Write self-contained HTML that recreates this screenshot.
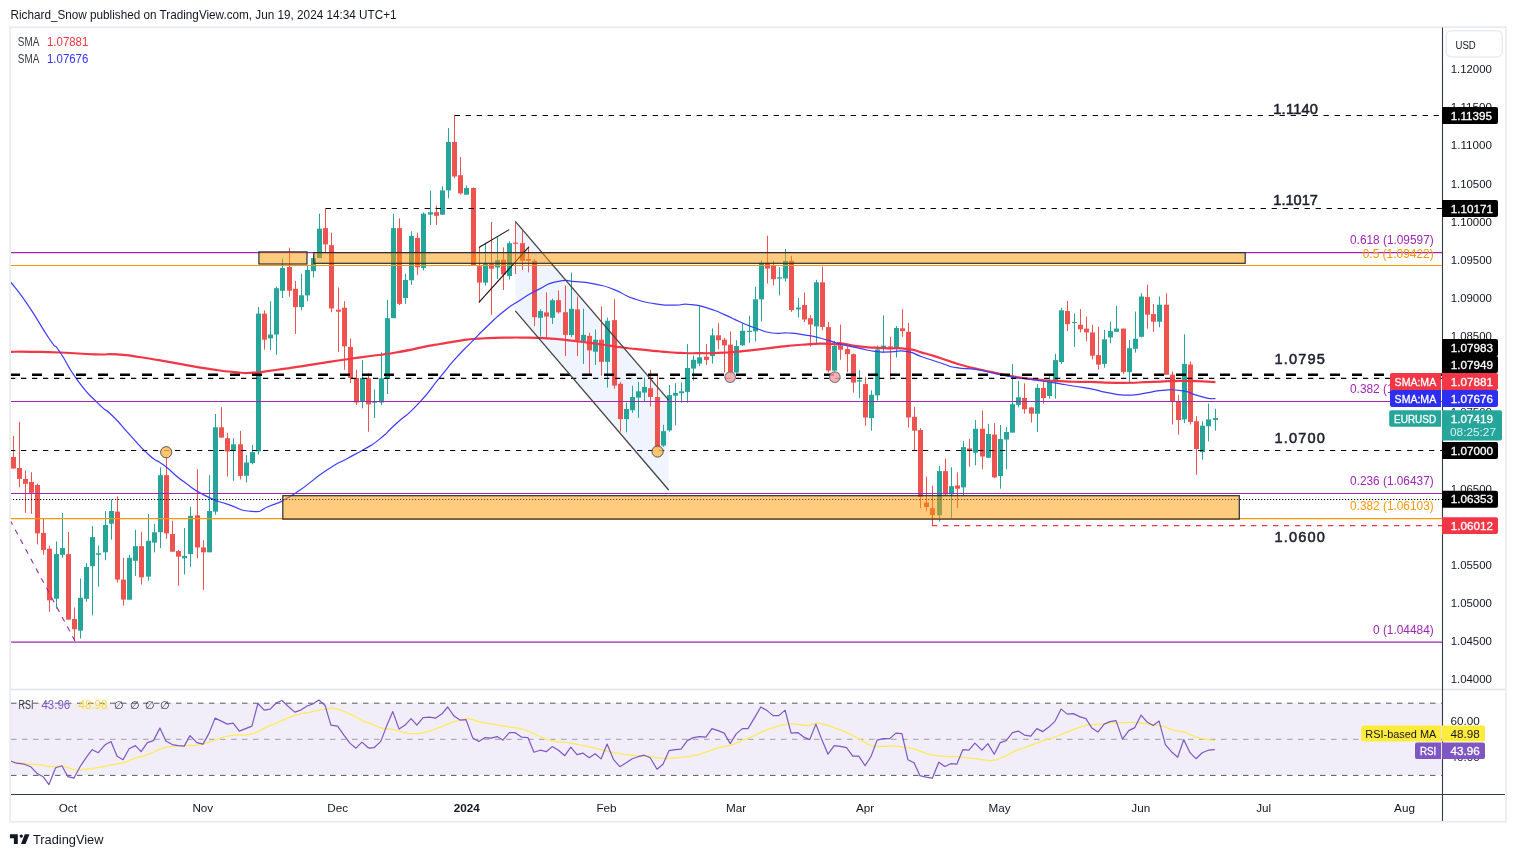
<!DOCTYPE html>
<html><head><meta charset="utf-8"><title>EURUSD chart</title>
<style>
html,body{margin:0;padding:0;background:#fff;}
body{width:1516px;height:857px;overflow:hidden;font-family:"Liberation Sans", Arial, sans-serif;}
svg{display:block}
text{font-family:"Liberation Sans", Arial, sans-serif;}
</style></head><body>
<svg width="1516" height="857" viewBox="0 0 1516 857">
<rect x="0" y="0" width="1516" height="857" fill="#ffffff"/>

<rect x="10.1" y="27.1" width="1495.9" height="794.6" fill="none" stroke="#e9ebf1" stroke-width="1.7"/>
<text x="10.5" y="19" font-size="12.2" fill="#131722" textLength="386" lengthAdjust="spacingAndGlyphs">Richard_Snow published on TradingView.com, Jun 19, 2024 14:34 UTC+1</text>
<defs><clipPath id="cp"><rect x="11" y="28" width="1431" height="661"/></clipPath><clipPath id="cr"><rect x="11" y="690" width="1431" height="104"/></clipPath></defs>
<g clip-path="url(#cp)">
<polygon points="515.3,221.4 668.7,400.2 668.7,490.0 515.3,310.9" fill="#2962ff" fill-opacity="0.07"/>
<line x1="13.5" x2="13.5" y1="435.8" y2="468.6" stroke="#ef5350" stroke-width="1"/>
<rect x="11.0" y="457.0" width="5" height="11.5" fill="#ef5350"/>
<line x1="19.5" x2="19.5" y1="421.8" y2="487.4" stroke="#ef5350" stroke-width="1"/>
<rect x="17.0" y="468.0" width="5" height="10.9" fill="#ef5350"/>
<line x1="25.5" x2="25.5" y1="470.4" y2="512.9" stroke="#ef5350" stroke-width="1"/>
<rect x="23.0" y="478.9" width="5" height="4.9" fill="#ef5350"/>
<line x1="31.5" x2="31.5" y1="472.2" y2="513.8" stroke="#ef5350" stroke-width="1"/>
<rect x="29.0" y="481.9" width="5" height="10.9" fill="#ef5350"/>
<line x1="37.5" x2="37.5" y1="483.7" y2="544.4" stroke="#ef5350" stroke-width="1"/>
<rect x="35.0" y="484.9" width="5" height="48.5" fill="#ef5350"/>
<line x1="43.5" x2="43.5" y1="518.3" y2="554.7" stroke="#ef5350" stroke-width="1"/>
<rect x="41.0" y="532.9" width="5" height="17.0" fill="#ef5350"/>
<line x1="49.5" x2="49.5" y1="545.6" y2="611.8" stroke="#ef5350" stroke-width="1"/>
<rect x="47.0" y="548.7" width="5" height="51.6" fill="#ef5350"/>
<line x1="56.5" x2="56.5" y1="541.4" y2="608.7" stroke="#26a69a" stroke-width="1"/>
<rect x="54.0" y="554.1" width="5" height="44.6" fill="#26a69a"/>
<line x1="62.5" x2="62.5" y1="512.9" y2="557.8" stroke="#26a69a" stroke-width="1"/>
<rect x="60.0" y="548.1" width="5" height="6.7" fill="#26a69a"/>
<line x1="68.5" x2="68.5" y1="532.0" y2="619.6" stroke="#ef5350" stroke-width="1"/>
<rect x="66.0" y="554.1" width="5" height="65.5" fill="#ef5350"/>
<line x1="74.5" x2="74.5" y1="607.5" y2="641.2" stroke="#ef5350" stroke-width="1"/>
<rect x="72.0" y="619.0" width="5" height="10.3" fill="#ef5350"/>
<line x1="80.5" x2="80.5" y1="578.4" y2="638.5" stroke="#26a69a" stroke-width="1"/>
<rect x="78.0" y="597.8" width="5" height="32.8" fill="#26a69a"/>
<line x1="86.5" x2="86.5" y1="563.2" y2="601.8" stroke="#26a69a" stroke-width="1"/>
<rect x="84.0" y="566.9" width="5" height="31.9" fill="#26a69a"/>
<line x1="92.5" x2="92.5" y1="526.2" y2="615.4" stroke="#26a69a" stroke-width="1"/>
<rect x="90.0" y="537.1" width="5" height="29.1" fill="#26a69a"/>
<line x1="98.5" x2="98.5" y1="545.6" y2="586.6" stroke="#26a69a" stroke-width="1"/>
<rect x="96.0" y="553.2" width="5" height="1.5" fill="#26a69a"/>
<line x1="105.5" x2="105.5" y1="511.0" y2="560.2" stroke="#26a69a" stroke-width="1"/>
<rect x="103.0" y="525.0" width="5" height="27.3" fill="#26a69a"/>
<line x1="111.5" x2="111.5" y1="499.5" y2="539.6" stroke="#26a69a" stroke-width="1"/>
<rect x="109.0" y="511.0" width="5" height="12.7" fill="#26a69a"/>
<line x1="117.5" x2="117.5" y1="496.5" y2="582.6" stroke="#ef5350" stroke-width="1"/>
<rect x="115.0" y="511.6" width="5" height="68.0" fill="#ef5350"/>
<line x1="123.5" x2="123.5" y1="557.8" y2="605.7" stroke="#ef5350" stroke-width="1"/>
<rect x="121.0" y="579.6" width="5" height="20.0" fill="#ef5350"/>
<line x1="129.5" x2="129.5" y1="554.7" y2="599.6" stroke="#26a69a" stroke-width="1"/>
<rect x="127.0" y="557.8" width="5" height="41.9" fill="#26a69a"/>
<line x1="135.5" x2="135.5" y1="529.8" y2="576.0" stroke="#26a69a" stroke-width="1"/>
<rect x="133.0" y="546.2" width="5" height="14.6" fill="#26a69a"/>
<line x1="141.5" x2="141.5" y1="531.7" y2="584.5" stroke="#ef5350" stroke-width="1"/>
<rect x="139.0" y="546.2" width="5" height="31.2" fill="#ef5350"/>
<line x1="148.5" x2="148.5" y1="514.1" y2="580.8" stroke="#26a69a" stroke-width="1"/>
<rect x="146.0" y="540.8" width="5" height="35.8" fill="#26a69a"/>
<line x1="154.5" x2="154.5" y1="523.8" y2="552.3" stroke="#26a69a" stroke-width="1"/>
<rect x="152.0" y="532.3" width="5" height="10.3" fill="#26a69a"/>
<line x1="160.5" x2="160.5" y1="467.4" y2="548.1" stroke="#26a69a" stroke-width="1"/>
<rect x="158.0" y="475.2" width="5" height="57.0" fill="#26a69a"/>
<line x1="166.5" x2="166.5" y1="457.6" y2="538.9" stroke="#ef5350" stroke-width="1"/>
<rect x="164.0" y="475.2" width="5" height="58.2" fill="#ef5350"/>
<line x1="172.5" x2="172.5" y1="520.7" y2="551.7" stroke="#ef5350" stroke-width="1"/>
<rect x="170.0" y="534.1" width="5" height="17.6" fill="#ef5350"/>
<line x1="178.5" x2="178.5" y1="549.9" y2="585.7" stroke="#ef5350" stroke-width="1"/>
<rect x="176.0" y="551.1" width="5" height="5.5" fill="#ef5350"/>
<line x1="184.5" x2="184.5" y1="528.0" y2="574.4" stroke="#26a69a" stroke-width="1"/>
<rect x="182.0" y="555.9" width="5" height="2.4" fill="#26a69a"/>
<line x1="190.5" x2="190.5" y1="506.8" y2="566.9" stroke="#26a69a" stroke-width="1"/>
<rect x="188.0" y="515.9" width="5" height="38.2" fill="#26a69a"/>
<line x1="197.5" x2="197.5" y1="469.2" y2="558.4" stroke="#ef5350" stroke-width="1"/>
<rect x="195.0" y="515.3" width="5" height="32.2" fill="#ef5350"/>
<line x1="203.5" x2="203.5" y1="540.2" y2="589.9" stroke="#ef5350" stroke-width="1"/>
<rect x="201.0" y="547.4" width="5" height="4.9" fill="#ef5350"/>
<line x1="209.5" x2="209.5" y1="475.2" y2="552.3" stroke="#26a69a" stroke-width="1"/>
<rect x="207.0" y="511.0" width="5" height="41.3" fill="#26a69a"/>
<line x1="215.5" x2="215.5" y1="414.0" y2="514.7" stroke="#26a69a" stroke-width="1"/>
<rect x="213.0" y="427.3" width="5" height="84.3" fill="#26a69a"/>
<line x1="221.5" x2="221.5" y1="407.3" y2="437.6" stroke="#ef5350" stroke-width="1"/>
<rect x="219.0" y="427.3" width="5" height="10.3" fill="#ef5350"/>
<line x1="227.5" x2="227.5" y1="432.8" y2="476.5" stroke="#ef5350" stroke-width="1"/>
<rect x="225.0" y="438.2" width="5" height="13.3" fill="#ef5350"/>
<line x1="233.5" x2="233.5" y1="438.2" y2="480.7" stroke="#26a69a" stroke-width="1"/>
<rect x="231.0" y="444.3" width="5" height="6.7" fill="#26a69a"/>
<line x1="240.5" x2="240.5" y1="430.9" y2="479.5" stroke="#ef5350" stroke-width="1"/>
<rect x="238.0" y="444.3" width="5" height="31.6" fill="#ef5350"/>
<line x1="246.5" x2="246.5" y1="455.2" y2="482.5" stroke="#26a69a" stroke-width="1"/>
<rect x="244.0" y="462.5" width="5" height="13.3" fill="#26a69a"/>
<line x1="252.5" x2="252.5" y1="444.9" y2="464.3" stroke="#26a69a" stroke-width="1"/>
<rect x="250.0" y="452.2" width="5" height="10.9" fill="#26a69a"/>
<line x1="258.5" x2="258.5" y1="307.1" y2="454.7" stroke="#26a69a" stroke-width="1"/>
<rect x="256.0" y="313.6" width="5" height="137.8" fill="#26a69a"/>
<line x1="264.5" x2="264.5" y1="310.4" y2="349.6" stroke="#ef5350" stroke-width="1"/>
<rect x="262.0" y="313.6" width="5" height="26.1" fill="#ef5350"/>
<line x1="270.5" x2="270.5" y1="301.2" y2="350.2" stroke="#26a69a" stroke-width="1"/>
<rect x="268.0" y="334.5" width="5" height="3.9" fill="#26a69a"/>
<line x1="276.5" x2="276.5" y1="286.5" y2="354.8" stroke="#26a69a" stroke-width="1"/>
<rect x="274.0" y="288.2" width="5" height="46.4" fill="#26a69a"/>
<line x1="282.5" x2="282.5" y1="258.8" y2="298.0" stroke="#26a69a" stroke-width="1"/>
<rect x="280.0" y="267.9" width="5" height="22.9" fill="#26a69a"/>
<line x1="289.5" x2="289.5" y1="247.7" y2="296.7" stroke="#ef5350" stroke-width="1"/>
<rect x="287.0" y="266.9" width="5" height="23.8" fill="#ef5350"/>
<line x1="295.5" x2="295.5" y1="281.0" y2="333.9" stroke="#ef5350" stroke-width="1"/>
<rect x="293.0" y="288.8" width="5" height="18.3" fill="#ef5350"/>
<line x1="301.5" x2="301.5" y1="273.8" y2="310.4" stroke="#26a69a" stroke-width="1"/>
<rect x="299.0" y="295.3" width="5" height="11.8" fill="#26a69a"/>
<line x1="307.5" x2="307.5" y1="265.3" y2="301.2" stroke="#26a69a" stroke-width="1"/>
<rect x="305.0" y="269.9" width="5" height="25.5" fill="#26a69a"/>
<line x1="313.5" x2="313.5" y1="254.9" y2="277.7" stroke="#26a69a" stroke-width="1"/>
<rect x="311.0" y="258.1" width="5" height="13.1" fill="#26a69a"/>
<line x1="319.5" x2="319.5" y1="213.7" y2="258.1" stroke="#26a69a" stroke-width="1"/>
<rect x="317.0" y="228.7" width="5" height="29.4" fill="#26a69a"/>
<line x1="325.5" x2="325.5" y1="208.5" y2="252.2" stroke="#ef5350" stroke-width="1"/>
<rect x="323.0" y="228.1" width="5" height="16.3" fill="#ef5350"/>
<line x1="331.5" x2="331.5" y1="232.7" y2="312.3" stroke="#ef5350" stroke-width="1"/>
<rect x="329.0" y="245.1" width="5" height="63.3" fill="#ef5350"/>
<line x1="338.5" x2="338.5" y1="287.5" y2="352.2" stroke="#ef5350" stroke-width="1"/>
<rect x="336.0" y="309.7" width="5" height="2.0" fill="#ef5350"/>
<line x1="344.5" x2="344.5" y1="301.2" y2="369.8" stroke="#ef5350" stroke-width="1"/>
<rect x="342.0" y="307.8" width="5" height="38.5" fill="#ef5350"/>
<line x1="350.5" x2="350.5" y1="338.4" y2="382.9" stroke="#ef5350" stroke-width="1"/>
<rect x="348.0" y="346.9" width="5" height="31.0" fill="#ef5350"/>
<line x1="356.5" x2="356.5" y1="369.8" y2="405.1" stroke="#ef5350" stroke-width="1"/>
<rect x="354.0" y="378.0" width="5" height="24.5" fill="#ef5350"/>
<line x1="362.5" x2="362.5" y1="360.0" y2="408.3" stroke="#26a69a" stroke-width="1"/>
<rect x="360.0" y="378.0" width="5" height="23.8" fill="#26a69a"/>
<line x1="368.5" x2="368.5" y1="373.1" y2="431.8" stroke="#ef5350" stroke-width="1"/>
<rect x="366.0" y="378.3" width="5" height="26.1" fill="#ef5350"/>
<line x1="374.5" x2="374.5" y1="389.4" y2="418.1" stroke="#26a69a" stroke-width="1"/>
<rect x="372.0" y="401.5" width="5" height="1.3" fill="#26a69a"/>
<line x1="381.5" x2="381.5" y1="352.2" y2="405.1" stroke="#26a69a" stroke-width="1"/>
<rect x="379.0" y="378.3" width="5" height="24.2" fill="#26a69a"/>
<line x1="387.5" x2="387.5" y1="299.9" y2="394.0" stroke="#26a69a" stroke-width="1"/>
<rect x="385.0" y="318.2" width="5" height="60.7" fill="#26a69a"/>
<line x1="393.5" x2="393.5" y1="213.7" y2="318.2" stroke="#26a69a" stroke-width="1"/>
<rect x="391.0" y="228.1" width="5" height="90.1" fill="#26a69a"/>
<line x1="399.5" x2="399.5" y1="218.3" y2="305.1" stroke="#ef5350" stroke-width="1"/>
<rect x="397.0" y="228.1" width="5" height="75.8" fill="#ef5350"/>
<line x1="405.5" x2="405.5" y1="273.8" y2="303.8" stroke="#26a69a" stroke-width="1"/>
<rect x="403.0" y="280.0" width="5" height="18.0" fill="#26a69a"/>
<line x1="411.5" x2="411.5" y1="231.3" y2="284.9" stroke="#26a69a" stroke-width="1"/>
<rect x="409.0" y="235.9" width="5" height="44.4" fill="#26a69a"/>
<line x1="417.5" x2="417.5" y1="232.7" y2="275.1" stroke="#ef5350" stroke-width="1"/>
<rect x="415.0" y="237.9" width="5" height="29.4" fill="#ef5350"/>
<line x1="423.5" x2="423.5" y1="212.4" y2="270.5" stroke="#26a69a" stroke-width="1"/>
<rect x="421.0" y="213.7" width="5" height="54.2" fill="#26a69a"/>
<line x1="430.5" x2="430.5" y1="190.4" y2="225.0" stroke="#26a69a" stroke-width="1"/>
<rect x="428.0" y="212.2" width="5" height="2.4" fill="#26a69a"/>
<line x1="436.5" x2="436.5" y1="205.6" y2="225.0" stroke="#ef5350" stroke-width="1"/>
<rect x="434.0" y="212.2" width="5" height="3.6" fill="#ef5350"/>
<line x1="442.5" x2="442.5" y1="186.2" y2="214.7" stroke="#26a69a" stroke-width="1"/>
<rect x="440.0" y="190.4" width="5" height="24.3" fill="#26a69a"/>
<line x1="448.5" x2="448.5" y1="127.9" y2="198.3" stroke="#26a69a" stroke-width="1"/>
<rect x="446.0" y="141.9" width="5" height="48.5" fill="#26a69a"/>
<line x1="454.5" x2="454.5" y1="115.2" y2="178.3" stroke="#ef5350" stroke-width="1"/>
<rect x="452.0" y="141.9" width="5" height="34.6" fill="#ef5350"/>
<line x1="460.5" x2="460.5" y1="157.0" y2="194.6" stroke="#ef5350" stroke-width="1"/>
<rect x="458.0" y="175.2" width="5" height="18.2" fill="#ef5350"/>
<line x1="466.5" x2="466.5" y1="185.5" y2="194.6" stroke="#26a69a" stroke-width="1"/>
<rect x="464.0" y="188.0" width="5" height="6.7" fill="#26a69a"/>
<line x1="473.5" x2="473.5" y1="187.4" y2="265.3" stroke="#ef5350" stroke-width="1"/>
<rect x="471.0" y="188.0" width="5" height="77.4" fill="#ef5350"/>
<line x1="479.5" x2="479.5" y1="247.4" y2="302.6" stroke="#ef5350" stroke-width="1"/>
<rect x="477.0" y="266.2" width="5" height="16.4" fill="#ef5350"/>
<line x1="485.5" x2="485.5" y1="242.6" y2="285.7" stroke="#26a69a" stroke-width="1"/>
<rect x="483.0" y="263.8" width="5" height="18.8" fill="#26a69a"/>
<line x1="491.5" x2="491.5" y1="222.0" y2="314.8" stroke="#ef5350" stroke-width="1"/>
<rect x="489.0" y="263.8" width="5" height="4.9" fill="#ef5350"/>
<line x1="497.5" x2="497.5" y1="237.1" y2="279.0" stroke="#26a69a" stroke-width="1"/>
<rect x="495.0" y="260.2" width="5" height="7.3" fill="#26a69a"/>
<line x1="503.5" x2="503.5" y1="247.4" y2="289.9" stroke="#ef5350" stroke-width="1"/>
<rect x="501.0" y="259.6" width="5" height="14.9" fill="#ef5350"/>
<line x1="509.5" x2="509.5" y1="241.4" y2="279.6" stroke="#26a69a" stroke-width="1"/>
<rect x="507.0" y="243.2" width="5" height="32.8" fill="#26a69a"/>
<line x1="515.5" x2="515.5" y1="222.0" y2="274.1" stroke="#ef5350" stroke-width="1"/>
<rect x="513.0" y="242.6" width="5" height="1.2" fill="#ef5350"/>
<line x1="522.5" x2="522.5" y1="231.1" y2="269.9" stroke="#ef5350" stroke-width="1"/>
<rect x="520.0" y="243.2" width="5" height="17.6" fill="#ef5350"/>
<line x1="528.5" x2="528.5" y1="246.8" y2="272.3" stroke="#ef5350" stroke-width="1"/>
<rect x="526.0" y="259.0" width="5" height="1.8" fill="#ef5350"/>
<line x1="534.5" x2="534.5" y1="259.0" y2="326.0" stroke="#ef5350" stroke-width="1"/>
<rect x="532.0" y="260.8" width="5" height="56.4" fill="#ef5350"/>
<line x1="540.5" x2="540.5" y1="309.3" y2="336.6" stroke="#26a69a" stroke-width="1"/>
<rect x="538.0" y="311.1" width="5" height="6.7" fill="#26a69a"/>
<line x1="546.5" x2="546.5" y1="292.3" y2="337.8" stroke="#ef5350" stroke-width="1"/>
<rect x="544.0" y="312.4" width="5" height="4.2" fill="#ef5350"/>
<line x1="552.5" x2="552.5" y1="298.7" y2="323.9" stroke="#26a69a" stroke-width="1"/>
<rect x="550.0" y="300.2" width="5" height="17.6" fill="#26a69a"/>
<line x1="558.5" x2="558.5" y1="290.5" y2="313.6" stroke="#ef5350" stroke-width="1"/>
<rect x="556.0" y="300.2" width="5" height="12.1" fill="#ef5350"/>
<line x1="565.5" x2="565.5" y1="285.5" y2="356.1" stroke="#ef5350" stroke-width="1"/>
<rect x="563.0" y="312.2" width="5" height="22.7" fill="#ef5350"/>
<line x1="571.5" x2="571.5" y1="272.5" y2="337.1" stroke="#26a69a" stroke-width="1"/>
<rect x="569.0" y="308.8" width="5" height="26.2" fill="#26a69a"/>
<line x1="577.5" x2="577.5" y1="296.8" y2="356.1" stroke="#ef5350" stroke-width="1"/>
<rect x="575.0" y="309.4" width="5" height="30.9" fill="#ef5350"/>
<line x1="583.5" x2="583.5" y1="308.8" y2="363.9" stroke="#26a69a" stroke-width="1"/>
<rect x="581.0" y="334.9" width="5" height="6.0" fill="#26a69a"/>
<line x1="589.5" x2="589.5" y1="332.7" y2="375.0" stroke="#ef5350" stroke-width="1"/>
<rect x="587.0" y="335.9" width="5" height="14.5" fill="#ef5350"/>
<line x1="595.5" x2="595.5" y1="329.6" y2="364.9" stroke="#26a69a" stroke-width="1"/>
<rect x="593.0" y="339.7" width="5" height="12.0" fill="#26a69a"/>
<line x1="601.5" x2="601.5" y1="306.3" y2="375.6" stroke="#ef5350" stroke-width="1"/>
<rect x="599.0" y="339.7" width="5" height="22.1" fill="#ef5350"/>
<line x1="607.5" x2="607.5" y1="317.6" y2="387.6" stroke="#26a69a" stroke-width="1"/>
<rect x="605.0" y="320.8" width="5" height="41.0" fill="#26a69a"/>
<line x1="614.5" x2="614.5" y1="299.3" y2="388.8" stroke="#ef5350" stroke-width="1"/>
<rect x="612.0" y="320.1" width="5" height="65.5" fill="#ef5350"/>
<line x1="620.5" x2="620.5" y1="381.9" y2="431.7" stroke="#ef5350" stroke-width="1"/>
<rect x="618.0" y="383.8" width="5" height="35.3" fill="#ef5350"/>
<line x1="626.5" x2="626.5" y1="402.7" y2="432.3" stroke="#26a69a" stroke-width="1"/>
<rect x="624.0" y="409.0" width="5" height="10.1" fill="#26a69a"/>
<line x1="632.5" x2="632.5" y1="385.7" y2="412.8" stroke="#26a69a" stroke-width="1"/>
<rect x="630.0" y="397.0" width="5" height="13.2" fill="#26a69a"/>
<line x1="638.5" x2="638.5" y1="381.9" y2="417.8" stroke="#26a69a" stroke-width="1"/>
<rect x="636.0" y="391.3" width="5" height="6.3" fill="#26a69a"/>
<line x1="644.5" x2="644.5" y1="377.5" y2="402.1" stroke="#26a69a" stroke-width="1"/>
<rect x="642.0" y="386.9" width="5" height="5.7" fill="#26a69a"/>
<line x1="650.5" x2="650.5" y1="369.9" y2="406.5" stroke="#ef5350" stroke-width="1"/>
<rect x="648.0" y="388.2" width="5" height="8.8" fill="#ef5350"/>
<line x1="657.5" x2="657.5" y1="375.0" y2="447.4" stroke="#ef5350" stroke-width="1"/>
<rect x="655.0" y="397.0" width="5" height="50.4" fill="#ef5350"/>
<line x1="663.5" x2="663.5" y1="424.7" y2="446.8" stroke="#26a69a" stroke-width="1"/>
<rect x="661.0" y="431.1" width="5" height="14.5" fill="#26a69a"/>
<line x1="669.5" x2="669.5" y1="385.0" y2="431.7" stroke="#26a69a" stroke-width="1"/>
<rect x="667.0" y="395.1" width="5" height="35.3" fill="#26a69a"/>
<line x1="675.5" x2="675.5" y1="383.2" y2="425.4" stroke="#26a69a" stroke-width="1"/>
<rect x="673.0" y="392.9" width="5" height="2.8" fill="#26a69a"/>
<line x1="681.5" x2="681.5" y1="382.5" y2="402.7" stroke="#26a69a" stroke-width="1"/>
<rect x="679.0" y="391.3" width="5" height="1.9" fill="#26a69a"/>
<line x1="687.5" x2="687.5" y1="344.1" y2="402.7" stroke="#26a69a" stroke-width="1"/>
<rect x="685.0" y="368.0" width="5" height="23.9" fill="#26a69a"/>
<line x1="693.5" x2="693.5" y1="355.4" y2="380.6" stroke="#26a69a" stroke-width="1"/>
<rect x="691.0" y="359.8" width="5" height="8.8" fill="#26a69a"/>
<line x1="699.5" x2="699.5" y1="305.6" y2="366.1" stroke="#26a69a" stroke-width="1"/>
<rect x="697.0" y="357.3" width="5" height="6.3" fill="#26a69a"/>
<line x1="706.5" x2="706.5" y1="344.1" y2="364.9" stroke="#ef5350" stroke-width="1"/>
<rect x="704.0" y="356.7" width="5" height="3.2" fill="#ef5350"/>
<line x1="712.5" x2="712.5" y1="328.3" y2="363.6" stroke="#26a69a" stroke-width="1"/>
<rect x="710.0" y="335.3" width="5" height="20.8" fill="#26a69a"/>
<line x1="718.5" x2="718.5" y1="323.3" y2="349.1" stroke="#ef5350" stroke-width="1"/>
<rect x="716.0" y="335.3" width="5" height="5.0" fill="#ef5350"/>
<line x1="724.5" x2="724.5" y1="337.8" y2="372.4" stroke="#ef5350" stroke-width="1"/>
<rect x="722.0" y="339.7" width="5" height="5.7" fill="#ef5350"/>
<line x1="730.5" x2="730.5" y1="331.5" y2="374.3" stroke="#ef5350" stroke-width="1"/>
<rect x="728.0" y="344.7" width="5" height="27.7" fill="#ef5350"/>
<line x1="736.5" x2="736.5" y1="340.3" y2="373.1" stroke="#26a69a" stroke-width="1"/>
<rect x="734.0" y="346.0" width="5" height="26.5" fill="#26a69a"/>
<line x1="742.5" x2="742.5" y1="323.3" y2="346.0" stroke="#26a69a" stroke-width="1"/>
<rect x="740.0" y="330.8" width="5" height="14.5" fill="#26a69a"/>
<line x1="749.5" x2="749.5" y1="315.7" y2="342.8" stroke="#26a69a" stroke-width="1"/>
<rect x="747.0" y="330.8" width="5" height="1.3" fill="#26a69a"/>
<line x1="755.5" x2="755.5" y1="286.7" y2="341.6" stroke="#26a69a" stroke-width="1"/>
<rect x="753.0" y="299.3" width="5" height="32.1" fill="#26a69a"/>
<line x1="761.5" x2="761.5" y1="260.3" y2="321.4" stroke="#26a69a" stroke-width="1"/>
<rect x="759.0" y="262.8" width="5" height="36.6" fill="#26a69a"/>
<line x1="767.5" x2="767.5" y1="235.7" y2="283.6" stroke="#ef5350" stroke-width="1"/>
<rect x="765.0" y="262.8" width="5" height="5.7" fill="#ef5350"/>
<line x1="773.5" x2="773.5" y1="260.9" y2="285.5" stroke="#ef5350" stroke-width="1"/>
<rect x="771.0" y="265.3" width="5" height="13.9" fill="#ef5350"/>
<line x1="779.5" x2="779.5" y1="267.2" y2="295.5" stroke="#26a69a" stroke-width="1"/>
<rect x="777.0" y="277.3" width="5" height="1.3" fill="#26a69a"/>
<line x1="785.5" x2="785.5" y1="248.9" y2="281.7" stroke="#26a69a" stroke-width="1"/>
<rect x="783.0" y="260.9" width="5" height="17.6" fill="#26a69a"/>
<line x1="791.5" x2="791.5" y1="255.8" y2="311.9" stroke="#ef5350" stroke-width="1"/>
<rect x="789.0" y="260.9" width="5" height="49.2" fill="#ef5350"/>
<line x1="798.5" x2="798.5" y1="298.1" y2="317.6" stroke="#26a69a" stroke-width="1"/>
<rect x="796.0" y="307.5" width="5" height="1.9" fill="#26a69a"/>
<line x1="804.5" x2="804.5" y1="292.4" y2="322.0" stroke="#ef5350" stroke-width="1"/>
<rect x="802.0" y="305.0" width="5" height="14.5" fill="#ef5350"/>
<line x1="810.5" x2="810.5" y1="315.1" y2="346.6" stroke="#ef5350" stroke-width="1"/>
<rect x="808.0" y="318.2" width="5" height="6.3" fill="#ef5350"/>
<line x1="816.5" x2="816.5" y1="279.8" y2="344.1" stroke="#26a69a" stroke-width="1"/>
<rect x="814.0" y="282.3" width="5" height="44.1" fill="#26a69a"/>
<line x1="822.5" x2="822.5" y1="266.6" y2="330.2" stroke="#ef5350" stroke-width="1"/>
<rect x="820.0" y="282.3" width="5" height="44.7" fill="#ef5350"/>
<line x1="828.5" x2="828.5" y1="322.0" y2="372.4" stroke="#ef5350" stroke-width="1"/>
<rect x="826.0" y="327.1" width="5" height="43.5" fill="#ef5350"/>
<line x1="834.5" x2="834.5" y1="340.9" y2="371.8" stroke="#26a69a" stroke-width="1"/>
<rect x="832.0" y="346.0" width="5" height="24.6" fill="#26a69a"/>
<line x1="840.5" x2="840.5" y1="324.5" y2="359.8" stroke="#ef5350" stroke-width="1"/>
<rect x="838.0" y="345.3" width="5" height="4.4" fill="#ef5350"/>
<line x1="847.5" x2="847.5" y1="346.6" y2="372.4" stroke="#ef5350" stroke-width="1"/>
<rect x="845.0" y="349.1" width="5" height="5.0" fill="#ef5350"/>
<line x1="853.5" x2="853.5" y1="353.5" y2="392.6" stroke="#ef5350" stroke-width="1"/>
<rect x="851.0" y="354.2" width="5" height="28.4" fill="#ef5350"/>
<line x1="859.5" x2="859.5" y1="370.2" y2="397.9" stroke="#26a69a" stroke-width="1"/>
<rect x="857.0" y="380.3" width="5" height="1.3" fill="#26a69a"/>
<line x1="865.5" x2="865.5" y1="377.1" y2="425.7" stroke="#ef5350" stroke-width="1"/>
<rect x="863.0" y="384.1" width="5" height="33.4" fill="#ef5350"/>
<line x1="871.5" x2="871.5" y1="390.4" y2="430.7" stroke="#26a69a" stroke-width="1"/>
<rect x="869.0" y="394.8" width="5" height="23.3" fill="#26a69a"/>
<line x1="877.5" x2="877.5" y1="345.6" y2="400.5" stroke="#26a69a" stroke-width="1"/>
<rect x="875.0" y="349.4" width="5" height="46.0" fill="#26a69a"/>
<line x1="883.5" x2="883.5" y1="315.4" y2="352.6" stroke="#26a69a" stroke-width="1"/>
<rect x="881.0" y="345.6" width="5" height="3.2" fill="#26a69a"/>
<line x1="890.5" x2="890.5" y1="336.8" y2="379.7" stroke="#ef5350" stroke-width="1"/>
<rect x="888.0" y="346.3" width="5" height="1.3" fill="#ef5350"/>
<line x1="896.5" x2="896.5" y1="326.1" y2="357.6" stroke="#26a69a" stroke-width="1"/>
<rect x="894.0" y="328.0" width="5" height="20.8" fill="#26a69a"/>
<line x1="902.5" x2="902.5" y1="309.1" y2="336.8" stroke="#ef5350" stroke-width="1"/>
<rect x="900.0" y="328.3" width="5" height="2.8" fill="#ef5350"/>
<line x1="908.5" x2="908.5" y1="322.9" y2="427.6" stroke="#ef5350" stroke-width="1"/>
<rect x="906.0" y="331.8" width="5" height="85.7" fill="#ef5350"/>
<line x1="914.5" x2="914.5" y1="406.8" y2="450.3" stroke="#ef5350" stroke-width="1"/>
<rect x="912.0" y="416.8" width="5" height="13.9" fill="#ef5350"/>
<line x1="920.5" x2="920.5" y1="428.2" y2="508.2" stroke="#ef5350" stroke-width="1"/>
<rect x="918.0" y="430.1" width="5" height="66.8" fill="#ef5350"/>
<line x1="926.5" x2="926.5" y1="476.7" y2="510.8" stroke="#ef5350" stroke-width="1"/>
<rect x="924.0" y="502.6" width="5" height="4.4" fill="#ef5350"/>
<line x1="932.5" x2="932.5" y1="485.5" y2="525.3" stroke="#ef5350" stroke-width="1"/>
<rect x="930.0" y="508.2" width="5" height="6.9" fill="#ef5350"/>
<line x1="939.5" x2="939.5" y1="466.0" y2="521.5" stroke="#26a69a" stroke-width="1"/>
<rect x="937.0" y="471.1" width="5" height="44.1" fill="#26a69a"/>
<line x1="945.5" x2="945.5" y1="458.4" y2="495.6" stroke="#ef5350" stroke-width="1"/>
<rect x="943.0" y="471.1" width="5" height="23.3" fill="#ef5350"/>
<line x1="951.5" x2="951.5" y1="467.3" y2="517.7" stroke="#26a69a" stroke-width="1"/>
<rect x="949.0" y="486.2" width="5" height="8.2" fill="#26a69a"/>
<line x1="957.5" x2="957.5" y1="472.3" y2="508.2" stroke="#ef5350" stroke-width="1"/>
<rect x="955.0" y="485.5" width="5" height="3.2" fill="#ef5350"/>
<line x1="963.5" x2="963.5" y1="440.8" y2="496.3" stroke="#26a69a" stroke-width="1"/>
<rect x="961.0" y="447.1" width="5" height="40.3" fill="#26a69a"/>
<line x1="969.5" x2="969.5" y1="438.9" y2="466.6" stroke="#ef5350" stroke-width="1"/>
<rect x="967.0" y="448.4" width="5" height="2.5" fill="#ef5350"/>
<line x1="975.5" x2="975.5" y1="420.0" y2="465.4" stroke="#26a69a" stroke-width="1"/>
<rect x="973.0" y="428.8" width="5" height="23.9" fill="#26a69a"/>
<line x1="982.5" x2="982.5" y1="410.5" y2="469.2" stroke="#ef5350" stroke-width="1"/>
<rect x="980.0" y="428.8" width="5" height="27.7" fill="#ef5350"/>
<line x1="988.5" x2="988.5" y1="423.8" y2="457.8" stroke="#26a69a" stroke-width="1"/>
<rect x="986.0" y="433.9" width="5" height="23.9" fill="#26a69a"/>
<line x1="994.5" x2="994.5" y1="423.2" y2="478.0" stroke="#ef5350" stroke-width="1"/>
<rect x="992.0" y="434.5" width="5" height="42.9" fill="#ef5350"/>
<line x1="1000.5" x2="1000.5" y1="425.0" y2="488.7" stroke="#26a69a" stroke-width="1"/>
<rect x="998.0" y="438.9" width="5" height="37.2" fill="#26a69a"/>
<line x1="1006.5" x2="1006.5" y1="426.9" y2="469.2" stroke="#26a69a" stroke-width="1"/>
<rect x="1004.0" y="432.0" width="5" height="7.6" fill="#26a69a"/>
<line x1="1012.5" x2="1012.5" y1="363.9" y2="432.6" stroke="#26a69a" stroke-width="1"/>
<rect x="1010.0" y="404.2" width="5" height="28.4" fill="#26a69a"/>
<line x1="1018.5" x2="1018.5" y1="380.9" y2="407.4" stroke="#26a69a" stroke-width="1"/>
<rect x="1016.0" y="397.3" width="5" height="7.6" fill="#26a69a"/>
<line x1="1024.5" x2="1024.5" y1="383.4" y2="413.7" stroke="#ef5350" stroke-width="1"/>
<rect x="1022.0" y="397.9" width="5" height="11.3" fill="#ef5350"/>
<line x1="1031.5" x2="1031.5" y1="407.4" y2="422.5" stroke="#ef5350" stroke-width="1"/>
<rect x="1029.0" y="407.4" width="5" height="6.3" fill="#ef5350"/>
<line x1="1037.5" x2="1037.5" y1="384.1" y2="432.0" stroke="#26a69a" stroke-width="1"/>
<rect x="1035.0" y="387.9" width="5" height="25.8" fill="#26a69a"/>
<line x1="1043.5" x2="1043.5" y1="380.3" y2="403.6" stroke="#ef5350" stroke-width="1"/>
<rect x="1041.0" y="387.9" width="5" height="10.1" fill="#ef5350"/>
<line x1="1049.5" x2="1049.5" y1="375.9" y2="398.6" stroke="#26a69a" stroke-width="1"/>
<rect x="1047.0" y="380.9" width="5" height="15.1" fill="#26a69a"/>
<line x1="1055.5" x2="1055.5" y1="353.8" y2="398.6" stroke="#26a69a" stroke-width="1"/>
<rect x="1053.0" y="360.1" width="5" height="22.1" fill="#26a69a"/>
<line x1="1061.5" x2="1061.5" y1="307.8" y2="363.9" stroke="#26a69a" stroke-width="1"/>
<rect x="1059.0" y="310.3" width="5" height="51.7" fill="#26a69a"/>
<line x1="1067.5" x2="1067.5" y1="300.9" y2="331.1" stroke="#ef5350" stroke-width="1"/>
<rect x="1065.0" y="311.0" width="5" height="13.2" fill="#ef5350"/>
<line x1="1074.5" x2="1074.5" y1="313.5" y2="346.9" stroke="#26a69a" stroke-width="1"/>
<rect x="1072.0" y="322.0" width="5" height="1.0" fill="#26a69a"/>
<line x1="1080.5" x2="1080.5" y1="309.1" y2="332.4" stroke="#ef5350" stroke-width="1"/>
<rect x="1078.0" y="324.8" width="5" height="4.4" fill="#ef5350"/>
<line x1="1086.5" x2="1086.5" y1="316.6" y2="341.2" stroke="#ef5350" stroke-width="1"/>
<rect x="1084.0" y="328.6" width="5" height="3.8" fill="#ef5350"/>
<line x1="1092.5" x2="1092.5" y1="324.8" y2="359.5" stroke="#ef5350" stroke-width="1"/>
<rect x="1090.0" y="332.4" width="5" height="23.3" fill="#ef5350"/>
<line x1="1098.5" x2="1098.5" y1="326.7" y2="369.6" stroke="#ef5350" stroke-width="1"/>
<rect x="1096.0" y="355.1" width="5" height="9.5" fill="#ef5350"/>
<line x1="1104.5" x2="1104.5" y1="329.9" y2="367.7" stroke="#26a69a" stroke-width="1"/>
<rect x="1102.0" y="339.3" width="5" height="24.6" fill="#26a69a"/>
<line x1="1110.5" x2="1110.5" y1="321.7" y2="343.1" stroke="#26a69a" stroke-width="1"/>
<rect x="1108.0" y="331.1" width="5" height="6.3" fill="#26a69a"/>
<line x1="1116.5" x2="1116.5" y1="305.9" y2="331.8" stroke="#26a69a" stroke-width="1"/>
<rect x="1114.0" y="328.6" width="5" height="3.2" fill="#26a69a"/>
<line x1="1123.5" x2="1123.5" y1="328.6" y2="374.0" stroke="#ef5350" stroke-width="1"/>
<rect x="1121.0" y="328.6" width="5" height="43.5" fill="#ef5350"/>
<line x1="1129.5" x2="1129.5" y1="340.0" y2="382.8" stroke="#26a69a" stroke-width="1"/>
<rect x="1127.0" y="348.2" width="5" height="23.9" fill="#26a69a"/>
<line x1="1135.5" x2="1135.5" y1="311.6" y2="352.6" stroke="#26a69a" stroke-width="1"/>
<rect x="1133.0" y="338.7" width="5" height="10.1" fill="#26a69a"/>
<line x1="1141.5" x2="1141.5" y1="293.3" y2="337.4" stroke="#26a69a" stroke-width="1"/>
<rect x="1139.0" y="296.5" width="5" height="40.3" fill="#26a69a"/>
<line x1="1147.5" x2="1147.5" y1="284.5" y2="328.6" stroke="#ef5350" stroke-width="1"/>
<rect x="1145.0" y="297.1" width="5" height="17.6" fill="#ef5350"/>
<line x1="1153.5" x2="1153.5" y1="304.0" y2="331.8" stroke="#ef5350" stroke-width="1"/>
<rect x="1151.0" y="314.1" width="5" height="7.6" fill="#ef5350"/>
<line x1="1159.5" x2="1159.5" y1="296.5" y2="327.4" stroke="#26a69a" stroke-width="1"/>
<rect x="1157.0" y="304.7" width="5" height="17.0" fill="#26a69a"/>
<line x1="1166.5" x2="1166.5" y1="293.3" y2="374.6" stroke="#ef5350" stroke-width="1"/>
<rect x="1164.0" y="304.7" width="5" height="70.0" fill="#ef5350"/>
<line x1="1172.5" x2="1172.5" y1="371.5" y2="424.4" stroke="#ef5350" stroke-width="1"/>
<rect x="1170.0" y="374.6" width="5" height="26.5" fill="#ef5350"/>
<line x1="1178.5" x2="1178.5" y1="394.8" y2="434.5" stroke="#ef5350" stroke-width="1"/>
<rect x="1176.0" y="401.1" width="5" height="18.9" fill="#ef5350"/>
<line x1="1184.5" x2="1184.5" y1="334.3" y2="423.2" stroke="#26a69a" stroke-width="1"/>
<rect x="1182.0" y="363.9" width="5" height="55.5" fill="#26a69a"/>
<line x1="1190.5" x2="1190.5" y1="361.4" y2="424.4" stroke="#ef5350" stroke-width="1"/>
<rect x="1188.0" y="364.5" width="5" height="57.4" fill="#ef5350"/>
<line x1="1196.5" x2="1196.5" y1="416.2" y2="474.8" stroke="#ef5350" stroke-width="1"/>
<rect x="1194.0" y="421.3" width="5" height="27.7" fill="#ef5350"/>
<line x1="1202.5" x2="1202.5" y1="421.3" y2="459.7" stroke="#26a69a" stroke-width="1"/>
<rect x="1200.0" y="425.7" width="5" height="26.5" fill="#26a69a"/>
<line x1="1208.5" x2="1208.5" y1="403.6" y2="441.4" stroke="#26a69a" stroke-width="1"/>
<rect x="1206.0" y="419.4" width="5" height="6.9" fill="#26a69a"/>
<line x1="1215.5" x2="1215.5" y1="408.7" y2="430.7" stroke="#26a69a" stroke-width="1"/>
<rect x="1213.0" y="418.1" width="5" height="1.9" fill="#26a69a"/>
<path d="M10.8,351.8 C17.7,351.8 15.2,351.6 31.7,351.8 C48.1,352.0 39.1,351.6 60.2,352.5 C81.3,353.3 76.0,353.7 95.0,354.4 C114.0,355.0 101.3,353.3 117.2,354.4 C133.0,355.4 123.5,354.7 142.5,357.5 C161.5,360.4 153.0,359.3 174.1,362.9 C195.3,366.5 185.8,365.2 205.8,368.3 C225.9,371.3 218.5,370.6 234.3,372.1 C250.1,373.6 241.7,373.1 253.3,372.7 C264.9,372.3 253.3,372.9 269.1,370.8 C285.0,368.7 279.7,369.6 300.8,366.4 C321.9,363.2 311.3,364.5 332.5,361.3 C353.6,358.2 343.0,359.8 364.1,356.9 C385.2,353.9 374.7,356.0 395.8,352.5 C416.9,348.9 412.7,348.9 427.4,346.1 C442.2,343.3 429.5,345.8 440.0,344.0 C450.5,342.3 446.3,342.7 459.0,340.9 C471.7,339.1 463.2,339.7 478.0,338.7 C492.8,337.6 486.4,338.0 503.3,337.7 C520.2,337.4 512.8,337.4 528.7,337.7 C544.5,338.0 535.0,337.5 550.8,338.7 C566.6,339.8 560.3,339.4 576.1,341.2 C592.0,343.0 583.5,342.0 598.3,344.0 C613.1,346.0 605.7,345.3 620.5,347.2 C635.3,349.1 628.9,348.3 642.6,349.7 C656.4,351.2 649.0,350.6 661.6,351.6 C674.3,352.7 668.0,352.4 680.6,352.9 C693.3,353.4 687.0,353.2 699.6,353.2 C712.3,353.2 704.9,353.5 718.6,352.9 C732.3,352.3 726.0,352.7 740.8,351.3 C755.6,349.9 747.1,350.6 763.0,348.8 C778.8,347.0 773.5,347.4 788.3,345.9 C803.1,344.5 795.7,345.1 807.3,344.4 C818.9,343.6 812.6,343.7 823.1,343.7 C833.7,343.7 833.3,344.6 838.9,344.4 C844.6,344.1 833.3,342.5 840.0,343.1 C846.7,343.7 844.2,344.6 858.9,346.3 C873.6,347.9 868.4,347.3 884.1,348.2 C899.9,349.0 893.6,347.3 906.2,348.8 C918.8,350.3 910.4,349.4 921.9,352.6 C933.5,355.7 928.2,354.2 940.8,358.2 C953.4,362.2 947.1,360.9 959.7,364.5 C972.4,368.2 966.1,366.3 978.7,369.3 C991.3,372.2 985.0,370.7 997.6,373.4 C1010.2,376.0 1003.9,375.1 1016.5,377.1 C1029.1,379.1 1022.8,378.1 1035.4,379.3 C1048.0,380.6 1039.6,380.1 1054.3,380.9 C1069.0,381.8 1067.6,381.6 1079.5,381.9 C1091.4,382.2 1076.0,381.6 1090.0,381.9 C1104.0,382.2 1100.5,382.8 1121.5,382.8 C1142.5,382.8 1132.0,382.5 1153.0,381.9 C1174.0,381.2 1163.7,380.8 1184.5,380.9 C1205.3,381.0 1205.1,381.8 1215.4,382.2" fill="none" stroke="#f23645" stroke-width="2.2" stroke-linejoin="round"/>
<path d="M10.8,282.2 C16.7,290.1 15.7,287.1 28.5,305.9 C41.3,324.7 38.5,323.0 49.1,338.5 C59.6,354.0 50.7,338.5 60.2,352.5 C69.7,366.4 64.9,363.3 77.6,380.3 C90.2,397.3 86.5,391.6 98.2,403.4 C109.8,415.3 101.8,405.3 112.4,415.8 C123.0,426.2 117.7,421.8 129.8,434.8 C142.0,447.8 137.2,444.4 148.8,454.7 C160.4,465.1 153.0,456.8 164.6,465.8 C176.3,474.8 169.9,471.6 183.6,481.6 C197.4,491.7 191.0,488.3 205.8,495.9 C220.6,503.5 212.7,499.3 228.0,504.4 C243.3,509.6 238.0,510.8 251.7,511.4 C265.4,512.0 254.9,512.2 269.1,506.3 C283.4,500.4 275.5,505.6 294.5,493.7 C313.5,481.7 308.2,482.5 326.1,470.6 C344.1,458.6 335.6,465.0 348.3,457.9 C360.9,450.8 353.6,455.7 364.1,449.3 C374.7,443.0 369.4,447.3 379.9,438.9 C390.5,430.4 383.1,435.6 395.8,424.0 C408.4,412.4 403.2,419.7 417.9,404.1 C432.7,388.4 427.4,392.5 440.1,377.2 C452.8,361.8 445.4,369.9 455.9,358.2 C466.5,346.4 461.1,352.5 471.7,341.8 C482.2,331.1 476.9,336.0 487.5,326.0 C498.0,316.0 492.8,320.2 503.3,311.7 C513.9,303.3 507.5,308.0 519.2,300.7 C530.8,293.3 525.5,295.9 538.2,289.6 C550.8,283.2 544.5,284.3 557.2,281.7 C569.8,279.0 563.5,280.8 576.1,281.7 C588.8,282.5 582.5,281.6 595.1,284.2 C607.8,286.8 601.5,284.8 614.1,289.6 C626.8,294.3 619.4,293.7 633.1,298.4 C646.9,303.2 641.6,301.6 655.3,303.8 C669.0,306.0 662.7,304.9 674.3,305.1 C685.9,305.3 678.5,303.3 690.1,304.5 C701.7,305.6 697.5,305.1 709.1,308.6 C720.7,312.1 714.4,310.4 725.0,314.9 C735.5,319.4 730.2,317.7 740.8,322.2 C751.3,326.7 746.1,324.9 756.6,328.5 C767.2,332.1 761.9,331.5 772.5,333.0 C783.0,334.4 777.7,332.3 788.3,333.0 C798.8,333.6 793.6,333.2 804.1,334.9 C814.7,336.5 809.4,335.4 819.9,338.0 C830.5,340.7 829.1,340.8 835.8,342.8 C842.5,344.8 832.3,342.3 840.0,344.1 C847.7,345.8 847.4,345.7 858.9,348.2 C870.5,350.6 864.2,350.0 874.7,351.3 C885.2,352.6 879.9,351.9 890.4,351.9 C900.9,351.9 895.7,349.7 906.2,351.3 C916.7,352.9 910.4,352.8 921.9,356.7 C933.5,360.5 929.3,359.3 940.8,363.0 C952.4,366.6 945.0,365.6 956.6,367.7 C968.2,369.8 962.9,367.4 975.5,369.3 C988.1,371.2 981.8,370.7 994.4,373.4 C1007.0,376.0 1000.7,375.0 1013.3,377.1 C1025.9,379.2 1018.6,377.8 1032.2,379.7 C1045.9,381.6 1040.6,380.7 1054.3,382.8 C1067.9,384.9 1060.6,383.9 1073.2,386.0 C1085.8,388.1 1080.2,386.8 1092.1,389.1 C1104.0,391.4 1097.0,390.9 1108.9,392.9 C1120.8,394.9 1115.2,395.1 1127.8,395.1 C1140.4,395.1 1135.2,394.5 1146.7,392.9 C1158.3,391.3 1150.9,391.1 1162.5,390.4 C1174.0,389.6 1169.8,389.0 1181.4,390.7 C1192.9,392.4 1188.2,392.9 1197.1,395.4 C1206.1,397.9 1202.1,397.2 1208.2,398.3 C1214.3,399.3 1213.0,398.5 1215.4,398.6" fill="none" stroke="#3b3bff" stroke-width="1.2" stroke-linejoin="round"/>
<line x1="10" x2="1442" y1="252.6" y2="252.6" stroke="#9c27b0" stroke-width="1.2"/>
<line x1="10" x2="1442" y1="265.5" y2="265.5" stroke="#ff9800" stroke-width="1.2"/>
<line x1="10" x2="1442" y1="401.5" y2="401.5" stroke="#9c27b0" stroke-width="1.2"/>
<line x1="10" x2="1442" y1="493.5" y2="493.5" stroke="#9c27b0" stroke-width="1.2"/>
<line x1="10" x2="1442" y1="518.6" y2="518.6" stroke="#ff9800" stroke-width="1.2"/>
<line x1="10" x2="1442" y1="642.2" y2="642.2" stroke="#9c27b0" stroke-width="1.2"/>
<line x1="10" y1="520" x2="75" y2="641" stroke="#9c27b0" stroke-width="1.1" stroke-dasharray="5.3 5.7"/>
<line x1="454.6" x2="1442" y1="115.5" y2="115.5" stroke="#000" stroke-width="1.1" stroke-dasharray="5.3 5.7"/>
<line x1="325.6" x2="1442" y1="208.5" y2="208.5" stroke="#000" stroke-width="1.1" stroke-dasharray="5.3 5.7"/>
<line x1="10" x2="1442" y1="374.7" y2="374.7" stroke="#000" stroke-width="2.4" stroke-dasharray="10 12"/>
<line x1="10" x2="1442" y1="378.4" y2="378.4" stroke="#000" stroke-width="1.3" stroke-dasharray="5.3 5.7"/>
<line x1="10" x2="1442" y1="450.5" y2="450.5" stroke="#000" stroke-width="1.2" stroke-dasharray="5.3 5.7"/>
<line x1="10" x2="1442" y1="499.5" y2="499.5" stroke="#000" stroke-width="1.2" stroke-dasharray="1.2 1.8"/>
<line x1="932" x2="1442" y1="525.6" y2="525.6" stroke="#f23645" stroke-width="1.1" stroke-dasharray="5.3 5.7"/>
<line x1="932.5" x2="932.5" y1="515" y2="525.6" stroke="#f23645" stroke-width="1"/>
<line x1="515.3" y1="221.4" x2="668.7" y2="400.2" stroke="#444" stroke-width="1.3"/>
<line x1="515.3" y1="310.9" x2="668.7" y2="490.0" stroke="#444" stroke-width="1.3"/>
<line x1="478.9" y1="247.5" x2="509.2" y2="229.6" stroke="#111" stroke-width="1.1"/>
<line x1="478.9" y1="302.4" x2="528.9" y2="246.8" stroke="#111" stroke-width="1.1"/>
<rect x="258.9" y="251.9" width="48.1" height="12.1" fill="#ff9800" fill-opacity="0.5" stroke="#2a2e39" stroke-width="1.2"/>
<rect x="313.8" y="252.6" width="931.4" height="10.7" fill="#ff9800" fill-opacity="0.5" stroke="#2a2e39" stroke-width="1.2"/>
<rect x="282.8" y="495.7" width="956.5" height="23.4" fill="#ff9800" fill-opacity="0.5" stroke="#2a2e39" stroke-width="1.2"/>
<circle cx="166.2" cy="452.2" r="5.6" fill="#ffb74d" fill-opacity="0.8" stroke="#555" stroke-width="1"/>
<circle cx="657.6" cy="451.5" r="5.6" fill="#ffb74d" fill-opacity="0.8" stroke="#555" stroke-width="1"/>
<circle cx="730.2" cy="377.2" r="5.3" fill="#f7a1a7" fill-opacity="0.85" stroke="#777" stroke-width="1.1"/>
<circle cx="834.8" cy="377.2" r="5.3" fill="#f7a1a7" fill-opacity="0.85" stroke="#777" stroke-width="1.1"/>
<text x="1273.3" y="114" font-size="14.6" fill="#1e222d" stroke="#1e222d" stroke-width="0.55" textLength="44.6" lengthAdjust="spacing">1.1140</text>
<text x="1273.3" y="204.7" font-size="14.6" fill="#1e222d" stroke="#1e222d" stroke-width="0.55" textLength="44.6" lengthAdjust="spacing">1.1017</text>
<text x="1274.6" y="364" font-size="14.6" fill="#1e222d" stroke="#1e222d" stroke-width="0.55" textLength="50.2" lengthAdjust="spacing">1.0795</text>
<text x="1274.6" y="443.4" font-size="14.6" fill="#1e222d" stroke="#1e222d" stroke-width="0.55" textLength="50.2" lengthAdjust="spacing">1.0700</text>
<text x="1274.6" y="541.6" font-size="14.6" fill="#1e222d" stroke="#1e222d" stroke-width="0.55" textLength="50.2" lengthAdjust="spacing">1.0600</text>
<text x="1350.0" y="244.3" font-size="12.3" fill="#9c27b0" textLength="83.7" lengthAdjust="spacingAndGlyphs">0.618 (1.09597)</text>
<text x="1362.7" y="257.5" font-size="12.3" fill="#ff9800" textLength="71" lengthAdjust="spacingAndGlyphs">0.5 (1.09422)</text>
<text x="1350.0" y="392.9" font-size="12.3" fill="#9c27b0" textLength="83.7" lengthAdjust="spacingAndGlyphs">0.382 (1.07639)</text>
<text x="1350.0" y="484.9" font-size="12.3" fill="#9c27b0" textLength="83.7" lengthAdjust="spacingAndGlyphs">0.236 (1.06437)</text>
<text x="1350.0" y="510" font-size="12.3" fill="#ff9800" textLength="83.7" lengthAdjust="spacingAndGlyphs">0.382 (1.06103)</text>
<text x="1373.0" y="634.2" font-size="12.3" fill="#9c27b0" textLength="60.7" lengthAdjust="spacingAndGlyphs">0 (1.04484)</text>
</g>
<text x="17.8" y="45.8" font-size="12" fill="#333740" textLength="21.5" lengthAdjust="spacingAndGlyphs">SMA</text><text x="47" y="45.8" font-size="12" fill="#f23645" textLength="41.3" lengthAdjust="spacingAndGlyphs">1.07881</text>
<text x="17.8" y="62.6" font-size="12" fill="#333740" textLength="21.5" lengthAdjust="spacingAndGlyphs">SMA</text><text x="47" y="62.6" font-size="12" fill="#3333ff" textLength="41.3" lengthAdjust="spacingAndGlyphs">1.07676</text>
<line x1="11" x2="1505" y1="689.5" y2="689.5" stroke="#e0e3eb" stroke-width="1.4"/>
<g clip-path="url(#cr)">
<rect x="11" y="703" width="1431" height="72" fill="#7e57c2" fill-opacity="0.1"/>
<line x1="11" x2="1442" y1="703.2" y2="703.2" stroke="#555a66" stroke-width="1" stroke-dasharray="5.5 5.5"/>
<line x1="11" x2="1442" y1="739.3" y2="739.3" stroke="#9a9da6" stroke-width="1" stroke-dasharray="5.5 5.5"/>
<line x1="11" x2="1442" y1="775.4" y2="775.4" stroke="#555a66" stroke-width="1" stroke-dasharray="5.5 5.5"/>
<path d="M10.0,761.2 C15.0,762.0 15.9,762.5 25.1,763.7 C34.3,764.9 29.2,763.8 37.6,764.7 C46.0,765.6 41.8,765.9 50.1,766.5 C58.5,767.0 54.3,765.4 62.7,766.5 C71.0,767.5 67.7,768.8 75.2,769.7 C82.7,770.6 76.9,770.0 85.2,769.2 C93.6,768.4 91.1,768.7 100.3,767.2 C109.5,765.7 104.4,766.4 112.8,764.7 C121.2,763.0 117.8,764.4 125.3,762.2 C132.8,760.0 127.8,760.7 135.4,758.2 C142.9,755.7 139.5,757.8 147.9,754.7 C156.2,751.6 152.1,751.7 160.4,748.9 C168.8,746.1 164.6,747.5 173.0,746.4 C181.3,745.3 176.3,746.2 185.5,745.6 C194.7,745.1 191.3,746.3 200.5,744.6 C209.7,743.0 203.0,743.6 213.1,740.6 C223.1,737.6 218.1,737.8 230.6,735.6 C243.1,733.4 239.0,736.8 250.7,734.1 C262.4,731.4 255.7,731.9 265.7,727.6 C275.7,723.3 270.7,725.3 280.7,721.1 C290.8,716.9 285.8,718.1 295.8,715.1 C305.8,712.1 300.8,714.1 310.8,712.1 C320.8,710.1 317.1,710.1 325.9,709.1 C334.6,708.0 328.8,707.2 337.1,709.1 C345.5,710.9 342.2,710.6 350.9,714.6 C359.7,718.6 357.1,718.2 363.5,721.1 C369.8,723.9 364.5,720.9 370.0,723.1 C375.5,725.3 372.1,725.4 380.0,727.6 C388.0,729.8 385.5,727.9 393.8,729.6 C402.2,731.3 398.0,731.3 405.1,732.6 C412.2,733.9 408.4,733.8 415.1,733.6 C421.8,733.4 417.6,733.9 425.1,732.1 C432.7,730.3 429.3,731.1 437.7,728.1 C446.0,725.1 441.9,725.9 450.2,723.1 C458.6,720.2 456.1,720.9 462.7,719.6 C469.4,718.2 464.4,718.2 470.3,719.1 C476.1,719.9 471.9,720.2 480.3,722.1 C488.6,723.9 485.3,722.9 495.3,724.6 C505.4,726.3 500.3,725.3 510.4,727.1 C520.4,728.9 515.4,726.9 525.4,730.1 C535.4,733.3 531.3,733.0 540.4,736.6 C549.6,740.2 543.0,738.7 553.0,740.9 C563.0,743.1 558.8,741.2 570.5,743.1 C582.2,745.1 577.2,744.3 588.1,746.6 C598.9,749.0 592.3,747.7 603.1,750.2 C614.0,752.6 609.8,752.1 620.7,753.9 C631.5,755.8 626.5,754.8 635.7,755.7 C644.9,756.5 639.9,755.6 648.2,756.4 C656.6,757.3 653.2,757.6 660.8,758.2 C668.3,758.8 663.3,758.5 670.8,758.2 C678.3,757.8 675.0,758.2 683.3,757.2 C691.7,756.2 687.5,757.1 695.9,755.2 C704.2,753.2 700.0,754.1 708.4,751.4 C716.7,748.7 713.4,749.2 720.9,747.2 C728.4,745.1 724.6,747.1 730.9,745.1 C737.3,743.2 732.8,744.3 740.0,741.4 C747.2,738.5 743.3,740.3 752.5,736.4 C761.7,732.4 756.7,733.5 767.6,729.6 C778.4,725.7 775.9,726.4 785.1,724.6 C794.3,722.8 787.6,723.8 795.1,724.1 C802.7,724.3 801.0,725.5 807.7,725.3 C814.4,725.2 810.2,724.0 815.2,723.6 C820.2,723.2 816.0,722.6 822.7,724.1 C829.4,725.6 826.9,725.1 835.3,728.1 C843.6,731.1 839.4,729.3 847.8,733.1 C856.1,737.0 852.8,735.6 860.3,739.6 C867.8,743.6 863.7,742.9 870.3,745.1 C877.0,747.4 872.0,746.1 880.4,746.4 C888.7,746.7 887.1,745.7 895.4,746.1 C903.8,746.6 899.6,746.8 905.4,747.7 C911.3,748.5 907.1,747.2 913.0,748.7 C918.8,750.2 916.3,750.0 923.0,752.2 C929.7,754.3 925.5,753.8 933.0,755.2 C940.5,756.6 938.0,755.9 945.5,756.4 C953.1,756.9 948.9,756.3 955.6,756.7 C962.3,757.1 958.9,757.0 965.6,757.7 C972.3,758.3 968.9,757.8 975.6,758.7 C982.3,759.5 979.8,759.7 985.6,760.2 C991.5,760.7 987.3,761.2 993.2,760.2 C999.0,759.2 995.7,760.4 1003.2,757.2 C1010.7,754.0 1007.4,754.3 1015.7,750.7 C1024.1,747.1 1019.9,749.5 1028.3,746.4 C1036.6,743.3 1032.4,744.3 1040.8,741.4 C1049.1,738.5 1045.0,740.5 1053.3,737.6 C1061.7,734.7 1057.5,736.0 1065.9,732.6 C1074.2,729.3 1070.9,730.1 1078.4,727.6 C1085.9,725.1 1081.7,726.2 1088.4,725.1 C1095.1,724.0 1091.8,725.0 1098.4,724.3 C1105.1,723.7 1104.6,723.7 1108.5,723.1 C1112.3,722.5 1105.3,722.8 1110.0,722.6 C1114.7,722.4 1113.3,722.6 1122.5,722.6 C1131.7,722.6 1128.4,721.9 1137.6,722.6 C1146.8,723.3 1142.6,723.6 1150.1,724.6 C1157.6,725.6 1153.4,724.2 1160.1,725.6 C1166.8,727.0 1164.3,727.0 1170.2,728.9 C1176.0,730.7 1173.1,730.0 1177.7,731.1 C1182.3,732.2 1178.9,730.6 1183.9,732.1 C1189.0,733.6 1187.3,733.6 1192.7,735.6 C1198.1,737.6 1195.2,736.8 1200.2,738.1 C1205.3,739.5 1202.9,738.8 1207.8,739.6 C1212.6,740.5 1212.4,740.3 1214.8,740.6" fill="none" stroke="#fdea5f" stroke-width="1.3" stroke-linejoin="round"/>
<polyline points="10.0,760.7 16.3,763.2 24.3,764.2 30.6,766.7 36.8,773.2 43.1,776.7 48.9,784.7 55.6,767.7 61.9,765.7 67.9,776.7 73.9,778.2 80.2,766.5 86.5,757.2 92.2,749.7 98.3,752.7 104.8,745.1 111.0,741.6 117.1,756.2 123.1,759.7 129.1,748.7 135.4,745.6 141.1,751.7 147.4,742.6 153.4,740.6 159.9,728.1 165.9,741.1 172.2,744.6 178.2,745.6 184.2,746.1 190.0,735.6 196.8,742.6 203.0,744.1 209.1,733.1 215.1,718.1 221.3,721.1 227.3,724.1 233.1,723.1 239.4,731.1 245.6,728.6 251.9,726.1 257.9,703.5 264.2,710.1 270.2,709.1 276.2,703.0 282.0,700.5 288.3,706.5 294.8,712.1 300.8,710.1 307.1,706.0 312.8,704.0 318.8,700.0 325.1,705.5 330.9,725.1 337.6,726.1 343.9,735.1 349.9,743.1 355.9,748.2 362.0,742.1 368.2,747.7 370.0,748.2 374.0,747.7 380.8,741.4 386.8,725.6 392.8,711.6 399.1,729.1 405.1,725.1 411.1,718.6 416.9,725.1 423.1,717.6 429.4,717.1 435.7,718.1 441.7,714.1 447.7,707.0 454.0,716.1 460.0,720.1 466.0,719.6 472.8,738.1 478.8,741.6 485.1,737.6 491.1,738.1 497.1,736.6 502.8,740.1 509.4,732.6 514.9,732.6 521.4,737.1 527.9,737.6 533.9,752.2 540.2,750.2 546.2,751.7 552.2,746.6 558.5,750.2 564.8,755.7 570.8,747.2 577.0,754.7 583.1,753.2 589.3,757.7 595.1,753.7 601.1,758.9 607.1,744.1 613.6,759.7 619.9,766.7 626.2,762.7 632.2,758.7 638.2,756.7 644.2,755.2 650.2,757.7 657.0,769.2 663.0,764.2 669.0,750.7 675.3,749.7 681.1,749.2 687.3,740.6 693.4,737.6 699.6,736.6 705.9,737.1 711.9,728.6 718.2,730.6 724.2,733.1 730.2,743.6 736.2,733.9 740.0,730.6 742.5,728.6 748.0,728.6 754.3,718.1 760.8,707.0 767.1,710.6 773.1,715.6 778.9,715.6 785.1,710.1 791.1,733.1 797.7,732.6 803.7,737.1 809.7,739.6 815.9,724.1 822.0,740.1 828.0,754.2 834.2,745.6 840.3,746.4 846.5,747.7 852.8,756.2 858.8,756.2 865.1,765.7 871.1,756.2 877.1,740.1 883.4,738.6 889.9,738.6 895.9,733.1 901.9,733.6 907.9,759.7 914.0,762.7 920.0,775.7 926.0,777.2 932.3,778.2 938.8,762.2 944.8,766.5 950.8,763.7 956.8,764.2 962.8,749.7 968.9,750.2 974.9,743.1 981.9,750.2 987.9,743.6 994.2,754.2 1000.2,742.6 1006.2,740.6 1012.5,732.6 1018.2,731.1 1024.5,735.1 1030.8,736.1 1036.8,728.6 1042.8,731.6 1048.8,727.1 1055.1,721.1 1061.1,709.1 1067.4,714.1 1073.4,713.6 1079.6,716.6 1085.9,718.6 1091.9,728.1 1097.9,732.1 1104.2,724.1 1110.0,721.6 1116.0,720.6 1122.5,739.1 1128.8,730.6 1134.8,727.6 1141.1,715.1 1147.1,722.1 1153.1,725.6 1159.1,721.1 1165.4,744.6 1171.4,751.7 1177.7,757.2 1183.7,739.6 1190.0,752.7 1196.0,758.7 1202.2,752.7 1208.3,750.2 1214.8,749.7" fill="none" stroke="#7e57c2" stroke-width="1.2" stroke-linejoin="round"/>
</g>
<text x="18.6" y="708.7" font-size="12" fill="#333740" textLength="15" lengthAdjust="spacingAndGlyphs">RSI</text><text x="41.4" y="708.7" font-size="12" fill="#7e57c2" textLength="28.8" lengthAdjust="spacingAndGlyphs">43.96</text><text x="78.5" y="708.7" font-size="12" fill="#fdd835" textLength="28.8" lengthAdjust="spacingAndGlyphs">48.98</text>
<text x="119.3" y="708.7" font-size="10.5" text-anchor="middle" fill="#333740">∅</text>
<text x="134.5" y="708.7" font-size="10.5" text-anchor="middle" fill="#333740">∅</text>
<text x="149.8" y="708.7" font-size="10.5" text-anchor="middle" fill="#333740">∅</text>
<text x="165" y="708.7" font-size="10.5" text-anchor="middle" fill="#333740">∅</text>
<line x1="1442.5" x2="1442.5" y1="27.5" y2="821" stroke="#363a45" stroke-width="1.1"/>
<line x1="11" x2="1505" y1="794.5" y2="794.5" stroke="#363a45" stroke-width="1.1"/>
<text x="1450.7" y="73.2" font-size="11.7" fill="#131722" textLength="41.2" lengthAdjust="spacingAndGlyphs">1.12000</text>
<text x="1450.7" y="111.3" font-size="11.7" fill="#131722" textLength="41.2" lengthAdjust="spacingAndGlyphs">1.11500</text>
<text x="1450.7" y="149.4" font-size="11.7" fill="#131722" textLength="41.2" lengthAdjust="spacingAndGlyphs">1.11000</text>
<text x="1450.7" y="187.6" font-size="11.7" fill="#131722" textLength="41.2" lengthAdjust="spacingAndGlyphs">1.10500</text>
<text x="1450.7" y="225.7" font-size="11.7" fill="#131722" textLength="41.2" lengthAdjust="spacingAndGlyphs">1.10000</text>
<text x="1450.7" y="263.8" font-size="11.7" fill="#131722" textLength="41.2" lengthAdjust="spacingAndGlyphs">1.09500</text>
<text x="1450.7" y="301.9" font-size="11.7" fill="#131722" textLength="41.2" lengthAdjust="spacingAndGlyphs">1.09000</text>
<text x="1450.7" y="340.1" font-size="11.7" fill="#131722" textLength="41.2" lengthAdjust="spacingAndGlyphs">1.08500</text>
<text x="1450.7" y="378.2" font-size="11.7" fill="#131722" textLength="41.2" lengthAdjust="spacingAndGlyphs">1.08000</text>
<text x="1450.7" y="416.3" font-size="11.7" fill="#131722" textLength="41.2" lengthAdjust="spacingAndGlyphs">1.07500</text>
<text x="1450.7" y="454.4" font-size="11.7" fill="#131722" textLength="41.2" lengthAdjust="spacingAndGlyphs">1.07000</text>
<text x="1450.7" y="492.6" font-size="11.7" fill="#131722" textLength="41.2" lengthAdjust="spacingAndGlyphs">1.06500</text>
<text x="1450.7" y="530.7" font-size="11.7" fill="#131722" textLength="41.2" lengthAdjust="spacingAndGlyphs">1.06000</text>
<text x="1450.7" y="568.8" font-size="11.7" fill="#131722" textLength="41.2" lengthAdjust="spacingAndGlyphs">1.05500</text>
<text x="1450.7" y="607.0" font-size="11.7" fill="#131722" textLength="41.2" lengthAdjust="spacingAndGlyphs">1.05000</text>
<text x="1450.7" y="645.1" font-size="11.7" fill="#131722" textLength="41.2" lengthAdjust="spacingAndGlyphs">1.04500</text>
<text x="1450.7" y="683.2" font-size="11.7" fill="#131722" textLength="41.2" lengthAdjust="spacingAndGlyphs">1.04000</text>
<text x="1450.4" y="725.3" font-size="11.7" fill="#131722">60.00</text>
<text x="1450.4" y="761.3" font-size="11.7" fill="#131722">40.00</text>
<rect x="1446.2" y="30.8" width="56" height="26.2" rx="5" fill="#fff" stroke="#ebecf2" stroke-width="1.5"/>
<text x="1455.5" y="48.6" font-size="11.7" fill="#131722" textLength="20.3" lengthAdjust="spacingAndGlyphs">USD</text>
<path d="M1442,107 H1496 a2,2 0 0 1 2,2 V122 a2,2 0 0 1 -2,2 H1442 Z" fill="#000"/>
<text x="1450.7" y="119.6" font-size="11.7" fill="#fff" stroke="#fff" stroke-width="0.3">1.11395</text>
<path d="M1442,200 H1496 a2,2 0 0 1 2,2 V215 a2,2 0 0 1 -2,2 H1442 Z" fill="#000"/>
<text x="1450.7" y="212.6" font-size="11.7" fill="#fff" stroke="#fff" stroke-width="0.3">1.10171</text>
<path d="M1442,339 H1496 a2,2 0 0 1 2,2 V354.2 a2,2 0 0 1 -2,2 H1442 Z" fill="#000"/>
<text x="1450.7" y="351.7" font-size="11.7" fill="#fff" stroke="#fff" stroke-width="0.3">1.07983</text>
<path d="M1442,356 H1496 a2,2 0 0 1 2,2 V371 a2,2 0 0 1 -2,2 H1442 Z" fill="#000"/>
<text x="1450.7" y="368.6" font-size="11.7" fill="#fff" stroke="#fff" stroke-width="0.3">1.07949</text>
<path d="M1442,373 H1496 a2,2 0 0 1 2,2 V388 a2,2 0 0 1 -2,2 H1442 Z" fill="#f23645"/>
<text x="1450.7" y="385.6" font-size="11.7" fill="#fff" stroke="#fff" stroke-width="0.3">1.07881</text>
<path d="M1441,373 H1392 a2,2 0 0 0 -2,2 V388 a2,2 0 0 0 2,2 H1441 Z" fill="#f23645"/>
<text x="1394.6" y="385.8" font-size="11.7" fill="#fff" stroke="#fff" stroke-width="0.3" textLength="41.6" lengthAdjust="spacingAndGlyphs">SMA:MA</text>
<path d="M1442,390 H1496 a2,2 0 0 1 2,2 V405 a2,2 0 0 1 -2,2 H1442 Z" fill="#2e2ef2"/>
<text x="1450.7" y="402.6" font-size="11.7" fill="#fff" stroke="#fff" stroke-width="0.3">1.07676</text>
<path d="M1441,390 H1392 a2,2 0 0 0 -2,2 V405 a2,2 0 0 0 2,2 H1441 Z" fill="#2e2ef2"/>
<text x="1394.6" y="402.8" font-size="11.7" fill="#fff" stroke="#fff" stroke-width="0.3" textLength="41.6" lengthAdjust="spacingAndGlyphs">SMA:MA</text>
<path d="M1441,410.3 H1391.2 a2,2 0 0 0 -2,2 V424.7 a2,2 0 0 0 2,2 H1441 Z" fill="#26a69a"/>
<text x="1394" y="423" font-size="11.7" fill="#fff" stroke="#fff" stroke-width="0.3" textLength="42.2" lengthAdjust="spacingAndGlyphs">EURUSD</text>
<path d="M1442,410.3 H1500 a2,2 0 0 1 2,2 V438.6 a2,2 0 0 1 -2,2 H1442 Z" fill="#26a69a"/>
<text x="1450.7" y="422.6" font-size="11.7" fill="#fff" stroke="#fff" stroke-width="0.3">1.07419</text>
<text x="1450" y="436.3" font-size="11.7" fill="#fff" fill-opacity="0.82" textLength="46" lengthAdjust="spacingAndGlyphs">08:25:27</text>
<path d="M1442,442 H1496 a2,2 0 0 1 2,2 V457 a2,2 0 0 1 -2,2 H1442 Z" fill="#000"/>
<text x="1450.7" y="454.6" font-size="11.7" fill="#fff" stroke="#fff" stroke-width="0.3">1.07000</text>
<path d="M1442,490.8 H1496 a2,2 0 0 1 2,2 V505.7 a2,2 0 0 1 -2,2 H1442 Z" fill="#000"/>
<text x="1450.7" y="503.4" font-size="11.7" fill="#fff" stroke="#fff" stroke-width="0.3">1.06353</text>
<path d="M1442,517.2 H1496 a2,2 0 0 1 2,2 V532 a2,2 0 0 1 -2,2 H1442 Z" fill="#f23645"/>
<text x="1450.7" y="529.7" font-size="11.7" fill="#fff" stroke="#fff" stroke-width="0.3">1.06012</text>
<path d="M1441,725.6 H1363.2 a2,2 0 0 0 -2,2 V739.4 a2,2 0 0 0 2,2 H1441 Z" fill="#ffeb3b"/>
<text x="1365.3" y="738" font-size="11.7" fill="#131722" textLength="71" lengthAdjust="spacingAndGlyphs">RSI-based MA</text>
<path d="M1442,725.6 H1483 a2,2 0 0 1 2,2 V739.4 a2,2 0 0 1 -2,2 H1442 Z" fill="#ffeb3b"/>
<text x="1450.4" y="738" font-size="11.7" fill="#131722">48.98</text>
<path d="M1441,742.6 H1417 a2,2 0 0 0 -2,2 V757 a2,2 0 0 0 2,2 H1441 Z" fill="#7e57c2"/>
<text x="1420" y="755" font-size="11.7" fill="#fff" stroke="#fff" stroke-width="0.3" textLength="16.3" lengthAdjust="spacingAndGlyphs">RSI</text>
<path d="M1442,742.6 H1483 a2,2 0 0 1 2,2 V757 a2,2 0 0 1 -2,2 H1442 Z" fill="#7e57c2"/>
<text x="1450.4" y="755" font-size="11.7" fill="#fff" stroke="#fff" stroke-width="0.3">43.96</text>
<text x="67.8" y="812" font-size="11.7" text-anchor="middle" font-weight="normal" fill="#131722">Oct</text>
<text x="202.8" y="812" font-size="11.7" text-anchor="middle" font-weight="normal" fill="#131722">Nov</text>
<text x="337.6" y="812" font-size="11.7" text-anchor="middle" font-weight="normal" fill="#131722">Dec</text>
<text x="466.7" y="812" font-size="11.7" text-anchor="middle" font-weight="bold" fill="#131722">2024</text>
<text x="606.5" y="812" font-size="11.7" text-anchor="middle" font-weight="normal" fill="#131722">Feb</text>
<text x="736" y="812" font-size="11.7" text-anchor="middle" font-weight="normal" fill="#131722">Mar</text>
<text x="865" y="812" font-size="11.7" text-anchor="middle" font-weight="normal" fill="#131722">Apr</text>
<text x="999.5" y="812" font-size="11.7" text-anchor="middle" font-weight="normal" fill="#131722">May</text>
<text x="1140.8" y="812" font-size="11.7" text-anchor="middle" font-weight="normal" fill="#131722">Jun</text>
<text x="1263.7" y="812" font-size="11.7" text-anchor="middle" font-weight="normal" fill="#131722">Jul</text>
<text x="1404.5" y="812" font-size="11.7" text-anchor="middle" font-weight="normal" fill="#131722">Aug</text>
<g fill="#131722"><path d="M9.9,834.3 H17.8 V843.9 H13.9 V838.3 H9.9 Z"/><circle cx="21.3" cy="836.1" r="1.7"/><path d="M24.8,834.3 H29.5 L25.5,843.9 H21 Z"/></g>
<text x="33" y="843.9" font-size="13.2" fill="#131722" textLength="70.5" lengthAdjust="spacingAndGlyphs">TradingView</text>
</svg></body></html>
